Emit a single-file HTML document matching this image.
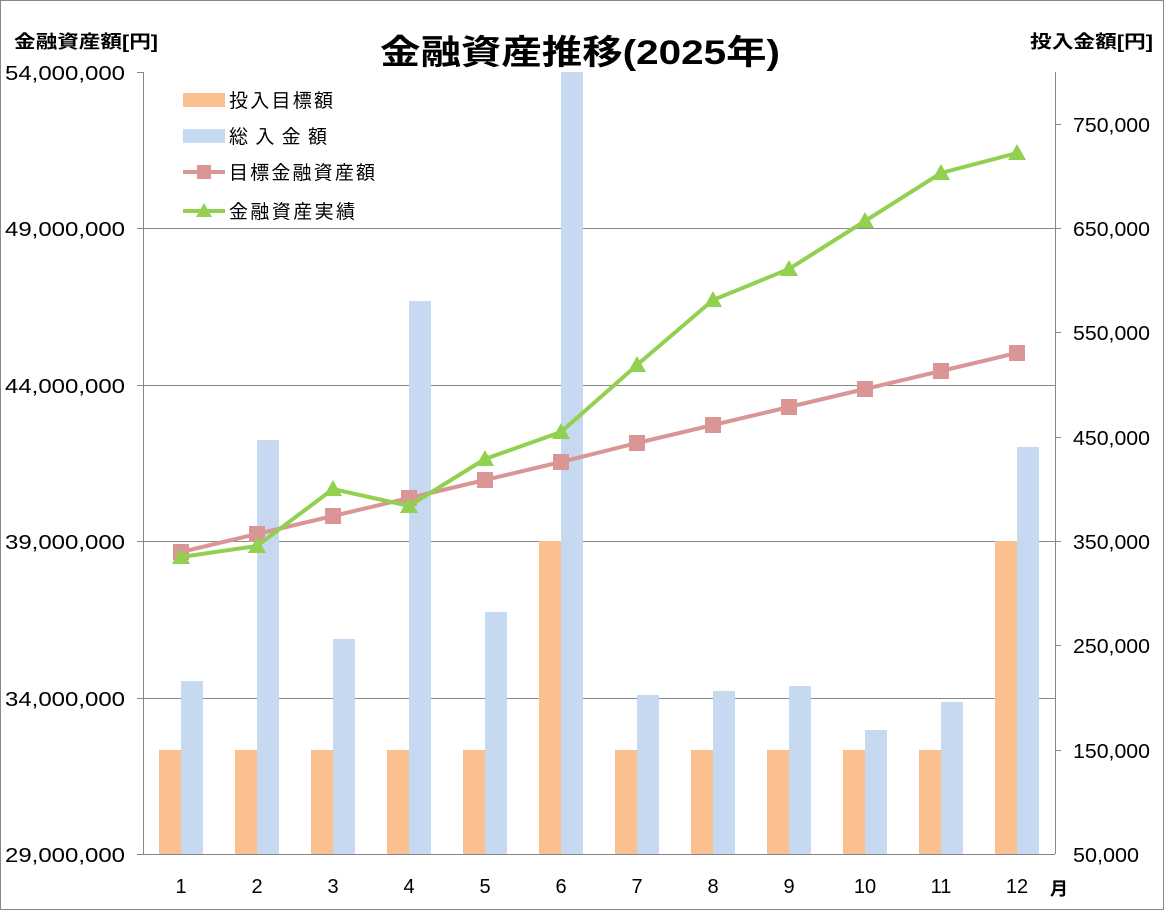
<!DOCTYPE html>
<html><head><meta charset="utf-8"><style>
body{margin:0;background:#fff}
svg text{font-family:"Liberation Sans","Noto Sans CJK JP",sans-serif}
</style></head><body>
<svg width="1164" height="910" xmlns="http://www.w3.org/2000/svg">
<rect x="0.5" y="0.5" width="1163" height="909" fill="#fff" stroke="#888"/>
<g stroke="#888" stroke-width="1">
<line x1="143" y1="228.5" x2="1055" y2="228.5"/>
<line x1="143" y1="385.5" x2="1055" y2="385.5"/>
<line x1="143" y1="541.5" x2="1055" y2="541.5"/>
<line x1="143" y1="698.5" x2="1055" y2="698.5"/>
</g>
<g fill="#fac090">
<rect x="159" y="750" width="22" height="104"/><rect x="235" y="750" width="22" height="104"/>
<rect x="311" y="750" width="22" height="104"/><rect x="387" y="750" width="22" height="104"/>
<rect x="463" y="750" width="22" height="104"/><rect x="539" y="541" width="22" height="313"/>
<rect x="615" y="750" width="22" height="104"/><rect x="691" y="750" width="22" height="104"/>
<rect x="767" y="750" width="22" height="104"/><rect x="843" y="750" width="22" height="104"/>
<rect x="919" y="750" width="22" height="104"/><rect x="995" y="541" width="22" height="313"/>
</g>
<g fill="#c6d9f1">
<rect x="181" y="681" width="22" height="173"/><rect x="257" y="440" width="22" height="414"/>
<rect x="333" y="639" width="22" height="215"/><rect x="409" y="301" width="22" height="553"/>
<rect x="485" y="612" width="22" height="242"/><rect x="561" y="72" width="22" height="782"/>
<rect x="637" y="695" width="22" height="159"/><rect x="713" y="691" width="22" height="163"/>
<rect x="789" y="686" width="22" height="168"/><rect x="865" y="730" width="22" height="124"/>
<rect x="941" y="702" width="22" height="152"/><rect x="1017" y="447" width="22" height="407"/>
</g>
<g stroke="#888"><line x1="143.5" y1="72" x2="143.5" y2="854"/><line x1="1055.5" y1="72" x2="1055.5" y2="854"/><line x1="143" y1="854.5" x2="1055" y2="854.5"/>
<line x1="137" y1="72.5" x2="143" y2="72.5"/><line x1="137" y1="228.5" x2="143" y2="228.5"/><line x1="137" y1="385.5" x2="143" y2="385.5"/><line x1="137" y1="541.5" x2="143" y2="541.5"/><line x1="137" y1="698.5" x2="143" y2="698.5"/><line x1="137" y1="854.5" x2="143" y2="854.5"/>
<line x1="1055" y1="124.5" x2="1061" y2="124.5"/><line x1="1055" y1="228.5" x2="1061" y2="228.5"/><line x1="1055" y1="332.5" x2="1061" y2="332.5"/><line x1="1055" y1="437.5" x2="1061" y2="437.5"/><line x1="1055" y1="541.5" x2="1061" y2="541.5"/><line x1="1055" y1="645.5" x2="1061" y2="645.5"/><line x1="1055" y1="750.5" x2="1061" y2="750.5"/>
</g>
<polyline fill="none" stroke="#d99694" stroke-width="4" points="181,552 257,534 333,516 409,498 485,480 561,462 637,443 713,425 789,407 865,389 941,371 1017,353"/>
<g fill="#d99694">
<rect x="173" y="544" width="16" height="16"/><rect x="249" y="526" width="16" height="16"/><rect x="325" y="508" width="16" height="16"/><rect x="401" y="490" width="16" height="16"/><rect x="477" y="472" width="16" height="16"/><rect x="553" y="454" width="16" height="16"/><rect x="629" y="435" width="16" height="16"/><rect x="705" y="417" width="16" height="16"/><rect x="781" y="399" width="16" height="16"/><rect x="857" y="381" width="16" height="16"/><rect x="933" y="363" width="16" height="16"/><rect x="1009" y="345" width="16" height="16"/>
</g>
<polyline fill="none" stroke="#92d050" stroke-width="4" points="181,557 257,546 333,489 409,506 485,459 561,432 637,365 713,300 789,269 865,221 941,173 1017,153"/>
<g fill="#92d050">
<polygon points="181,548 190,564 172,564"/><polygon points="257,537 266,553 248,553"/><polygon points="333,480 342,496 324,496"/><polygon points="409,497 418,513 400,513"/><polygon points="485,450 494,466 476,466"/><polygon points="561,423 570,439 552,439"/><polygon points="637,356 646,372 628,372"/><polygon points="713,291 722,307 704,307"/><polygon points="789,260 798,276 780,276"/><polygon points="865,212 874,228 856,228"/><polygon points="941,164 950,180 932,180"/><polygon points="1017,144 1026,160 1008,160"/>
</g>
<rect x="183" y="93" width="42" height="14" fill="#fac090"/>
<rect x="183" y="129" width="42" height="14" fill="#c6d9f1"/>
<line x1="183" y1="172" x2="225" y2="172" stroke="#d99694" stroke-width="4"/><rect x="197" y="165" width="14" height="14" fill="#d99694"/>
<line x1="183" y1="211" x2="225" y2="211" stroke="#92d050" stroke-width="4"/><polygon points="204,203 212,217 196,217" fill="#92d050"/>
<g font-size="19" fill="#000">
<text x="229" y="107" textLength="104">投入目標額</text><text x="229" y="143" textLength="98">総入金額</text><text x="229" y="179" textLength="146">目標金融資産額</text><text x="229" y="218" textLength="126">金融資産実績</text>
</g>
<text x="380" y="64" font-size="34" font-weight="bold" textLength="400" lengthAdjust="spacingAndGlyphs">金融資産推移(2025年)</text>
<text x="14" y="48" font-size="18" font-weight="bold" textLength="144" lengthAdjust="spacingAndGlyphs">金融資産額[円]</text>
<text x="1030" y="48" font-size="18" font-weight="bold" textLength="123" lengthAdjust="spacingAndGlyphs">投入金額[円]</text>
<g font-size="20">
<text x="5" y="80" textLength="120" lengthAdjust="spacingAndGlyphs">54,000,000</text><text x="5" y="236" textLength="120" lengthAdjust="spacingAndGlyphs">49,000,000</text><text x="5" y="393" textLength="120" lengthAdjust="spacingAndGlyphs">44,000,000</text><text x="5" y="549" textLength="120" lengthAdjust="spacingAndGlyphs">39,000,000</text><text x="5" y="706" textLength="120" lengthAdjust="spacingAndGlyphs">34,000,000</text><text x="5" y="862" textLength="120" lengthAdjust="spacingAndGlyphs">29,000,000</text>
</g>
<g font-size="20">
<text x="1073" y="132" textLength="77" lengthAdjust="spacingAndGlyphs">750,000</text><text x="1073" y="236" textLength="77" lengthAdjust="spacingAndGlyphs">650,000</text><text x="1073" y="340" textLength="77" lengthAdjust="spacingAndGlyphs">550,000</text><text x="1073" y="445" textLength="77" lengthAdjust="spacingAndGlyphs">450,000</text><text x="1073" y="549" textLength="77" lengthAdjust="spacingAndGlyphs">350,000</text><text x="1073" y="653" textLength="77" lengthAdjust="spacingAndGlyphs">250,000</text><text x="1073" y="758" textLength="77" lengthAdjust="spacingAndGlyphs">150,000</text><text x="1073" y="862" textLength="66" lengthAdjust="spacingAndGlyphs">50,000</text>
</g>
<g font-size="20" text-anchor="middle">
<text x="181" y="893">1</text><text x="257" y="893">2</text><text x="333" y="893">3</text><text x="409" y="893">4</text><text x="485" y="893">5</text><text x="561" y="893">6</text><text x="637" y="893">7</text><text x="713" y="893">8</text><text x="789" y="893">9</text><text x="865" y="893">10</text><text x="941" y="893">11</text><text x="1017" y="893">12</text>
</g>
<text x="1050" y="895" font-size="18" font-weight="bold">月</text>
</svg>
</body></html>
